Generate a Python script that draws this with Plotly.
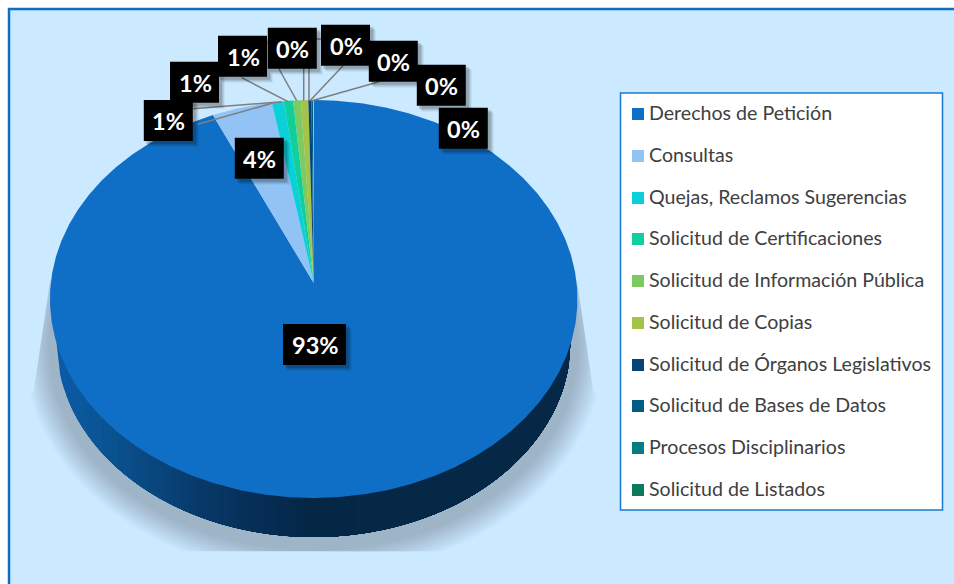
import numpy as np
import plotly.graph_objects as go

# ---- data ----
categories = ["Derechos de Petición", "Consultas", "Quejas, Reclamos Sugerencias",
              "Solicitud de Certificaciones", "Solicitud de Información Pública",
              "Solicitud de Copias", "Solicitud de Órganos Legislativos",
              "Solicitud de Bases de Datos", "Procesos Disciplinarios", "Solicitud de Listados"]
values = [93.25, 4.0, 0.8, 0.6, 0.51, 0.49, 0.2, 0.1, 0.03, 0.02]
colors = ["#0F6FC6", "#91C3F5", "#0BD0D9", "#10CF9B", "#7CCA62", "#A5C249",
          "#094376", "#005E82", "#067D82", "#0A7C5D"]
percent_labels = ["93%", "4%", "1%", "1%", "1%", "0%", "0%", "0%", "0%", "0%"]

# ---- layout constants (pixels) ----
W, H = 954, 584
BG = "#CBE9FF"
CX, CY = 313.7, 283.0
A, B, K = 262.9, 197.7, 0.0804
LOW_CX, LOW_CY, LOW_A, LOW_B = 313.5, 342.0, 257.0, 195.0

label_boxes = [(314.5, 344.5), (259.3, 158.3), (168.3, 120.5), (194.5, 82.3), (242.5, 56.3),
               (292.3, 48.3), (345.5, 45.3), (393.3, 61.3), (441.3, 85.3), (463.3, 128.3)]
leaders = [((197.7, 124.3), (273, 103)), ((193, 108.7), (281.7, 101.7)),
           ((241.7, 77.7), (288, 101.7)), ((279, 69), (296.7, 100.7)),
           ((303.7, 100.7), (303.7, 43), (267, 43)), ((309, 100.7), (309, 39), (321, 39)),
           ((343, 65.7), (310, 100.7)), ((379, 81.7), (312, 100.7))]
legend_rows = [114, 156, 198, 239, 281, 323, 365, 406, 448, 490]
wall_stops_x = [56, 100, 150, 200, 260, 310, 571]
wall_stops_rgb = [(12, 92, 168), (11, 85, 150), (10, 72, 128), (8, 58, 105), (6, 46, 86), (5, 39, 70), (6, 45, 79)]


def rim(theta):
    d = 1 + K * np.cos(theta)
    return CX + A * np.sin(theta) / d, CY - B * np.cos(theta) / d


fig = go.Figure()


def poly(x, y, color):
    fig.add_trace(go.Scatter(x=list(x), y=list(y), mode="lines", fill="toself", fillcolor=color,
                             line=dict(color="rgba(0,0,0,0)", width=0),
                             hoverinfo="skip", showlegend=False))


# soft shadow under the disc
t = np.linspace(0, 2 * np.pi, 361)
layers = 14
for i in range(layers):
    d = 6 + 27 * (i + 1) / layers
    sx = LOW_CX + (LOW_A + d) * np.cos(t)
    sy = LOW_CY + 6 + (LOW_B + d) * np.sin(t)
    sy2 = np.clip(sy, 280, 551.5)
    half = np.where(sy2 < 395, 263.5 + (sy2 - 280) * 17.0 / 115.0, 400)
    sx2 = np.clip(sx, LOW_CX - half, LOW_CX + half)
    poly(sx2, sy2, "rgba(0,0,0,0.0155)")

# wall of the disc: each band runs to the right end and is overpainted by the next one
edges = np.linspace(56.5, 360, 61)
for x0, x1 in zip(edges[:-1], edges[1:]):
    xs = np.linspace(x0, 570.5, 140)
    ys = LOW_CY + LOW_B * np.sqrt(np.clip(1 - ((xs - LOW_CX) / LOW_A) ** 2, 0, 1))
    mid = (x0 + x1) / 2
    rgb = [np.interp(mid, wall_stops_x, [c[j] for c in wall_stops_rgb]) for j in range(3)]
    poly(list(xs) + [570.5, x0], list(ys) + [LOW_CY, LOW_CY], "rgb(%d,%d,%d)" % tuple(rgb))

# slices of the top face: clockwise from twelve o'clock
cum = 0.0
for name, val, col in zip(categories, values, colors):
    th = np.linspace(cum, cum + val, max(3, int(val * 8))) / 100 * 2 * np.pi
    rx, ry = rim(th)
    poly([CX] + list(rx) + [CX], [CY] + list(ry) + [CY], col)
    fig.data[-1].name = name
    cum += val

# legend swatches
for name, col, row in zip(categories, colors, legend_rows):
    fig.add_trace(go.Scatter(x=[638], y=[row], mode="markers", name=name,
                             marker=dict(symbol="square", size=12, color=col, line=dict(width=0)),
                             hoverinfo="skip", showlegend=False))

shapes = [
    dict(type="rect", x0=9, y0=9, x1=W + 20, y1=H + 20, fillcolor=BG, line=dict(color="#0F6FC6", width=2.5), layer="below"),
    dict(type="rect", x0=620.5, y0=93, x1=942.5, y1=510, fillcolor="white", line=dict(color="#1B78D0", width=1.5), layer="below"),
]
for pts in leaders:
    path = "M " + " L ".join("%g,%g" % p for p in pts)
    shapes.append(dict(type="path", path=path, line=dict(color="#7F7F7F", width=1.5), layer="above"))

annotations = []
for name, row in zip(categories, legend_rows):
    annotations.append(dict(x=647, y=row - 1.5, text=name, showarrow=False, xref="x", yref="y", xanchor="left",
                            font=dict(family="Lato", size=19.6, color="#404040")))
for text, (bx, by) in zip(percent_labels, label_boxes):
    hw = 31.5 if len(text) == 3 else 24.5
    for s, alpha in ((6, 0.05), (5, 0.07), (4, 0.09), (3, 0.11)):
        shapes.append(dict(type="rect", x0=bx - hw + s - 1, x1=bx + hw + s, y0=by - 20.5 + s - 1, y1=by + 20.5 + s,
                           fillcolor="rgba(0,0,0,%g)" % alpha, line=dict(width=0), layer="above"))
    shapes.append(dict(type="rect", x0=bx - hw, x1=bx + hw, y0=by - 20.5, y1=by + 20.5,
                       fillcolor="black", line=dict(width=0), layer="above"))
    annotations.append(dict(x=bx + 0.5, y=by + 0.7, text=text, showarrow=False, xref="x", yref="y",
                            font=dict(family="Lato", size=23.5, color="white", weight=700)))

fig.update_layout(
    width=W, height=H, margin=dict(l=0, r=0, t=0, b=0),
    paper_bgcolor="white", plot_bgcolor="white", showlegend=False,
    xaxis=dict(range=[0, W], visible=False, fixedrange=True),
    yaxis=dict(range=[H, 0], visible=False, fixedrange=True),
    shapes=shapes, annotations=annotations,
)
fig.write_html("out.html", config=dict(displayModeBar=False),
               post_script="document.body.style.margin='0';document.body.style.overflow='hidden';")
